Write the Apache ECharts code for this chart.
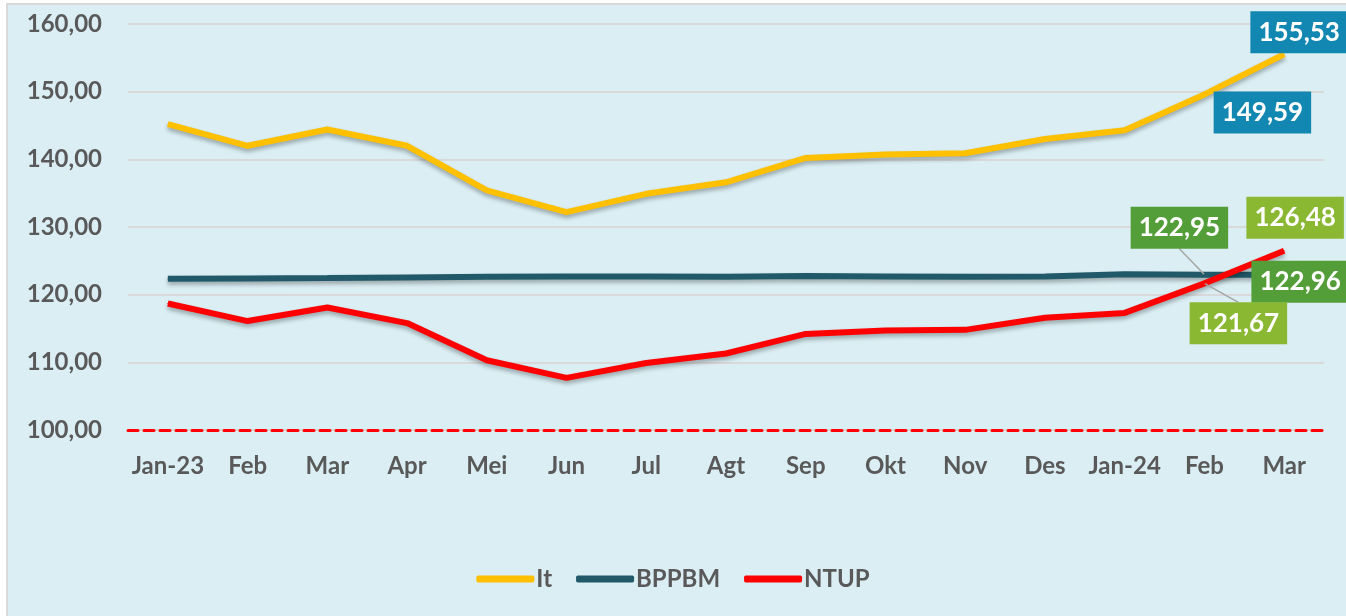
<!DOCTYPE html>
<html>
<head>
<meta charset="utf-8">
<script src="https://cdn.jsdelivr.net/npm/echarts@6/dist/echarts.min.js"></script>
<style>
html, body { margin: 0; padding: 0; background: #fff; }
#chart { width: 1346px; height: 616px; }
</style>
</head>
<body>
<div id="chart"></div>
<script>
var months = ['Jan-23', 'Feb', 'Mar', 'Apr', 'Mei', 'Jun', 'Jul', 'Agt', 'Sep', 'Okt', 'Nov', 'Des', 'Jan-24', 'Feb', 'Mar'];
var itValues = [145.2, 142.0, 144.4, 142.0, 135.4, 132.2, 134.9, 136.6, 140.2, 140.7, 140.9, 143.0, 144.3, 149.59, 155.53];
var bppbmValues = [122.35, 122.4, 122.45, 122.55, 122.65, 122.7, 122.7, 122.65, 122.75, 122.7, 122.65, 122.7, 123.0, 122.95, 122.96];
var ntupValues = [118.7, 116.1, 118.1, 115.8, 110.3, 107.7, 109.9, 111.3, 114.2, 114.7, 114.8, 116.6, 117.3, 121.67, 126.48];

var fmt = function (v) { return v.toFixed(2).replace('.', ','); };

// which points get a label: [index, box colour, dx, dy, leader line]
var itLabels = [[13, '#1287b1', 58, 18, false], [14, '#1287b1', 15, -22, false]];
var bppbmLabels = [[13, '#549e39', -25, -47, true], [14, '#549e39', 16, 7, false]];
var ntupLabels = [[13, '#8ab833', 34, 40, true], [14, '#8ab833', 11, -33, false]];

function buildData(values, labels) {
    return values.map(function (v, i) {
        var item = { value: v };
        labels.forEach(function (l) {
            if (l[0] === i) {
                item.label = {
                    show: true,
                    backgroundColor: l[1]
                };
                item.labelLine = { show: l[4] };
            }
        });
        return item;
    });
}

function layoutFor(labels) {
    return function (p) {
        for (var k = 0; k < labels.length; k++) {
            if (labels[k][0] === p.dataIndex) {
                return { dx: labels[k][2], dy: labels[k][3] };
            }
        }
        return {};
    };
}

function makeSeries(name, color, values, labels) {
    return {
        name: name,
        type: 'line',
        symbol: 'circle',
        symbolSize: 1,
        showAllSymbol: true,
        color: color,
        lineStyle: { width: 6, shadowColor: 'rgba(0,0,0,0.3)', shadowBlur: 4, shadowOffsetY: 3 },
        label: {
            show: false,
            position: 'inside',
            color: '#fff',
            fontFamily: 'Lato, sans-serif',
            fontWeight: 'bold',
            fontSize: 26,
            padding: [9, 8, 7, 8],
            formatter: function (p) { return fmt(p.value); }
        },
        labelLine: { show: false, lineStyle: { color: '#a6a6a6', width: 1.5 } },
        emphasis: { disabled: true },
        data: buildData(values, labels),
        labelLayout: layoutFor(labels)
    };
}

var chart = echarts.init(document.getElementById('chart'));
chart.setOption({
    textStyle: { fontFamily: 'Lato, sans-serif' },
    graphic: [{
        type: 'rect',
        z: -10,
        shape: { x: 7, y: 4, width: 1350, height: 620 },
        style: { fill: '#daeef3', stroke: '#d9d9d9', lineWidth: 2 }
    }],
    grid: { left: 128, right: 22, top: 24, bottom: 186 },
    legend: {
        top: 562,
        left: 'center',
        icon: 'roundRect',
        itemWidth: 58,
        itemHeight: 7,
        itemGap: 24,
        textStyle: { color: '#595959', fontSize: 24, fontWeight: 'bold', padding: [0, 0, 0, -3] },
        data: ['It', 'BPPBM', 'NTUP']
    },
    xAxis: {
        type: 'category',
        data: months,
        axisTick: { show: false },
        axisLine: { lineStyle: { color: '#ff0000', width: 3, type: [10, 6] } },
        axisLabel: { color: '#595959', fontSize: 24, fontWeight: 'bold', margin: 24, interval: 0 }
    },
    yAxis: {
        type: 'value',
        min: 100,
        max: 160,
        interval: 10,
        axisLabel: { color: '#595959', fontSize: 24, fontWeight: 'bold', margin: 26, formatter: fmt },
        splitLine: { lineStyle: { color: '#d9d9d9', width: 2 } }
    },
    series: [
        makeSeries('It', '#ffc000', itValues, itLabels),
        makeSeries('BPPBM', '#215968', bppbmValues, bppbmLabels),
        makeSeries('NTUP', '#ff0000', ntupValues, ntupLabels)
    ]
});
</script>
</body>
</html>
